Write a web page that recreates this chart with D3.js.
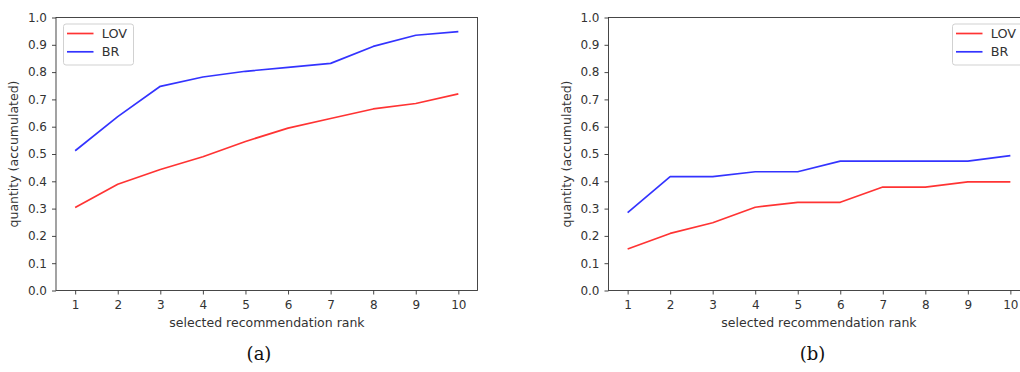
<!DOCTYPE html>
<html><head><meta charset="utf-8">
<script src="https://cdn.jsdelivr.net/npm/d3@7/dist/d3.min.js"></script>
<style>body{margin:0;background:#fff;}svg{display:block;}</style>
</head><body>
<svg id="c" width="1020" height="372"></svg>
<script>
const ranks = [1,2,3,4,5,6,7,8,9,10];
const yTicks = [0,0.1,0.2,0.3,0.4,0.5,0.6,0.7,0.8,0.9,1.0];
const lovA = [0.304,0.389,0.443,0.490,0.546,0.595,0.630,0.665,0.685,0.720];
const brA  = [0.512,0.637,0.748,0.782,0.803,0.817,0.832,0.894,0.935,0.948];
const lovB = [0.152,0.209,0.248,0.305,0.323,0.323,0.379,0.379,0.398,0.398];
const brB  = [0.285,0.417,0.417,0.435,0.435,0.474,0.474,0.474,0.474,0.494];
const seriesNames = ["LOV","BR"];
const captions = ["(a)","(b)"];

const svg = d3.select("#c");
const font = "DejaVu Sans, sans-serif";
const txt = "#333";

const panels = [
  {left:56, right:477.5, series:[lovA,brA], legend:"left", cap:captions[0], capX:259, labX:267},
  {left:608.5, right:1029.5, series:[lovB,brB], legend:"right", cap:captions[1], capX:812.5, labX:819}
];
const plotTop = 17.5, plotBottom = 290.5;
const colors = ["rgba(255,0,0,0.8)","rgba(0,0,255,0.8)"];

panels.forEach(p => {
  const g = svg.append("g");
  const x = d3.scaleLinear().domain([0.55,10.45]).range([p.left,p.right]);
  const y = d3.scaleLinear().domain([0,1]).range([plotBottom,plotTop]);

  const xa = g.append("g").attr("transform",`translate(0,${plotBottom})`)
    .call(d3.axisBottom(x).tickValues(ranks).tickFormat(d3.format("d")).tickSizeOuter(0).tickSize(4).tickPadding(6));
  const ya = g.append("g").attr("transform",`translate(${p.left},0)`)
    .call(d3.axisLeft(y).tickValues(yTicks).tickFormat(d3.format(".1f")).tickSizeOuter(0).tickSize(4).tickPadding(5));
  [xa,ya].forEach(a=>{
    a.select(".domain").remove();
    a.selectAll("line").attr("stroke","#333").attr("stroke-width",0.9);
    a.selectAll("text").attr("fill",txt).style("font-family",font).style("font-size","12px");
  });
  g.append("rect").attr("x",p.left).attr("y",plotTop).attr("width",p.right-p.left).attr("height",plotBottom-plotTop)
    .attr("fill","none").attr("stroke","#333").attr("stroke-width",0.9);

  const line = d3.line().x((d,i)=>x(ranks[i])).y(d=>y(d));
  p.series.forEach((s,k)=>{
    g.append("path").datum(s).attr("d",line).attr("fill","none")
      .attr("stroke",colors[k]).attr("stroke-width",1.7).attr("stroke-linejoin","round");
  });

  // legend
  const lx = p.legend==="left" ? 63.5 : 952.5;
  const lw = 70;
  const lg = g.append("g");
  lg.append("rect").attr("x",lx).attr("y",24).attr("width",lw).attr("height",41).attr("rx",2.5)
    .attr("fill","rgba(255,255,255,0.8)").attr("stroke","#ccc").attr("stroke-width",0.9);
  seriesNames.forEach((n,k)=>{
    const yy = 33.5 + k*18.3;
    lg.append("line").attr("x1",lx+3.5).attr("x2",lx+30).attr("y1",yy).attr("y2",yy)
      .attr("stroke",colors[k]).attr("stroke-width",1.7);
    lg.append("text").attr("x",lx+38.3).attr("y",yy).attr("dy","0.36em").text(n)
      .attr("fill",txt).style("font-family",font).style("font-size","12.8px");
  });

  // axis labels
  g.append("text").attr("x", p.labX).attr("y",327).attr("text-anchor","middle")
    .text("selected recommendation rank").attr("fill",txt).style("font-family",font).style("font-size","12.5px");
  g.append("text").attr("transform",`translate(${p.left-42},${(plotTop+plotBottom)/2}) rotate(-90)`)
    .attr("text-anchor","middle").attr("dy","0.35em")
    .text("quantity (accumulated)").attr("fill",txt).style("font-family",font).style("font-size","12.5px");
  g.append("text").attr("x", p.capX).attr("y",360).attr("text-anchor","middle")
    .text(p.cap).attr("fill","#111").style("font-family","DejaVu Serif, serif").style("font-size","18px");
});
</script>
</body></html>
